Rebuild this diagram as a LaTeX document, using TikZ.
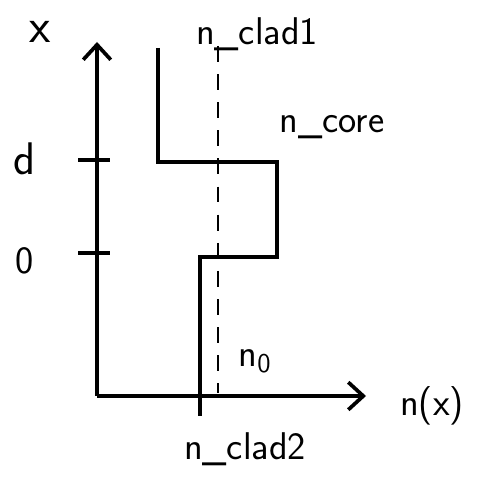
\documentclass[tikz,border=0pt]{standalone}
\usepackage{tikz}
\usetikzlibrary{arrows.meta, positioning}

\tikzset{
  axis/.style={line width=2.1pt, -{Straight Barb[length=3mm,width=5.5mm,line width=2.1pt]}},
  profile/.style={line width=2.2pt},
  tickmark/.style={line width=2.1pt},
  lbl/.style={font=\sffamily\fontsize{22}{26}\selectfont, inner sep=1pt}
}

\begin{document}
\begin{tikzpicture}
\useasboundingbox (0,0) rectangle (9.66,9.72);

% Axes
\coordinate (O) at (1.94,1.80);
\coordinate (xtop) at (1.94,8.88);
\coordinate (nend) at (7.32,1.80);
\draw[axis] (O) -- (xtop);
\draw[axis] (O) -- (nend);

% Ticks
\coordinate (dL) at (1.56,6.52);
\coordinate (dR) at (2.20,6.52);
\coordinate (zL) at (1.56,4.66);
\coordinate (zR) at (2.20,4.66);
\draw[tickmark] (dL) -- (dR);
\draw[tickmark] (zL) -- (zR);

% Index profile
\coordinate (p1) at (3.16,8.76);
\coordinate (p2) at (3.16,6.48);
\coordinate (p3) at (5.54,6.48);
\coordinate (p4) at (5.54,4.58);
\coordinate (p5) at (4.00,4.58);
\coordinate (p6) at (4.00,1.40);
\draw[profile] (p1) -- (p2) -- (p3) -- (p4) -- (p5) -- (p6);

% n0 level
\coordinate (n0top) at (4.36,8.80);
\coordinate (n0bot) at (4.36,1.86);
\draw[dashed, line width=1.4pt, dash pattern=on 9pt off 7pt] (n0top) -- (n0bot);

% Labels
\node[lbl, font=\sffamily\fontsize{28}{32}\selectfont] (xlab) at (0.80,9.08) {x};
\node[lbl, font=\sffamily\fontsize{26}{30}\selectfont] (dlab) at (0.50,6.54) {d};
\node[lbl] (zlab) at (0.50,4.50) {0};
\node[lbl] (clad1) at (5.14,9.04) {n\_clad1};
\node[lbl] (core) at (6.64,7.18) {n\_core};
\node[lbl] (nzero) at (5.10,2.50) {n\textsubscript{0}};
\node[lbl] (clad2) at (4.90,0.74) {n\_clad2};
\node[lbl] (nx) at (8.64,1.60) {n(x)};
\end{tikzpicture}
\end{document}
